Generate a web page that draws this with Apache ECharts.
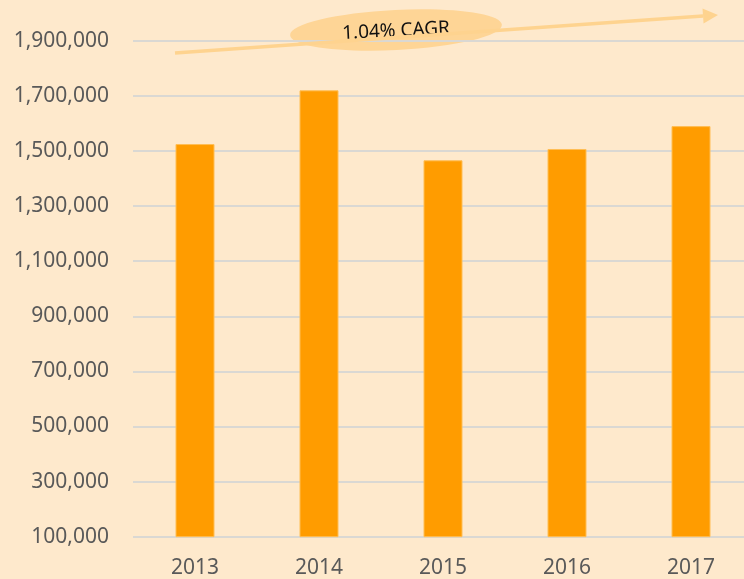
<!DOCTYPE html>
<html>
<head>
<meta charset="utf-8">
<script src="https://cdn.jsdelivr.net/npm/echarts@6/dist/echarts.min.js"></script>
<style>
html, body { margin: 0; padding: 0; background: #FEE9CC; }
#chart { width: 744px; height: 579px; }
</style>
</head>
<body>
<div id="chart"></div>
<script>
var years = ['2013', '2014', '2015', '2016', '2017'];
var totals = [1525000, 1720000, 1466000, 1507000, 1590000];
var cagrLabel = '1.04% CAGR';
var yMin = 100000;
var yMax = 1900000;
var yStep = 100000;

var chart = echarts.init(document.getElementById('chart'));

// arrow direction for the CAGR annotation
var ax0 = 175, ay0 = 53, ax1 = 718, ay1 = 15;
var len = Math.sqrt((ax1 - ax0) * (ax1 - ax0) + (ay1 - ay0) * (ay1 - ay0));
var dx = (ax1 - ax0) / len, dy = (ay1 - ay0) / len;
var bx = ax1 - 15 * dx, by = ay1 - 15 * dy;
var ang = Math.atan2(ay0 - ay1, ax1 - ax0);

var option = {
	backgroundColor: '#FEE9CC',
	animation: false,
	grid: {
		left: 133,
		width: 620,
		top: 40.7,
		height: 496,
		containLabel: false,
		outerBoundsMode: 'none'
	},
	xAxis: {
		type: 'category',
		data: years,
		axisLine: { show: false },
		axisTick: { show: false },
		axisLabel: {
			color: '#595959',
			fontFamily: 'Noto Sans',
			fontSize: 21,
			margin: 21
		}
	},
	yAxis: {
		type: 'value',
		min: yMin,
		max: yMax,
		interval: yStep,
		axisLine: { show: false },
		axisTick: { show: false },
		axisLabel: {
			color: '#595959',
			fontFamily: 'Noto Sans',
			fontSize: 21,
			margin: 24,
			formatter: function (v) {
				if (Math.round((v - yMin) / yStep) % 2 !== 0) return '';
				return v.toLocaleString('en-US');
			}
		},
		splitLine: {
			lineStyle: { color: ['#DAD8D3', 'rgba(0,0,0,0)'], width: 2 }
		}
	},
	series: [{
		type: 'bar',
		data: totals,
		barWidth: 39,
		itemStyle: {
			color: '#FF9C00',
			borderColor: '#FFBE55',
			borderWidth: 1
		}
	}],
	graphic: [
		{
			type: 'line',
			shape: { x1: ax0, y1: ay0, x2: bx, y2: by },
			style: { stroke: '#FED38F', lineWidth: 3.5 },
			z: 10
		},
		{
			type: 'polygon',
			shape: {
				points: [
					[ax1, ay1],
					[bx - 7.5 * dy, by + 7.5 * dx],
					[bx + 7.5 * dy, by - 7.5 * dx]
				]
			},
			style: { fill: '#FED38F' },
			z: 10
		},
		{
			type: 'group',
			x: 396,
			y: 30,
			rotation: ang * 0.7,
			z: 11,
			children: [
				{
					type: 'ellipse',
					shape: { cx: 0, cy: 0, rx: 106, ry: 20 },
					style: { fill: '#FED596' }
				},
				{
					type: 'text',
					x: 0,
					y: 1,
					style: {
						text: cagrLabel,
						fill: '#111111',
						font: '19px "Noto Sans"',
						textAlign: 'center',
						textVerticalAlign: 'middle'
					}
				}
			]
		}
	]
};
chart.setOption(option);
</script>
</body>
</html>
